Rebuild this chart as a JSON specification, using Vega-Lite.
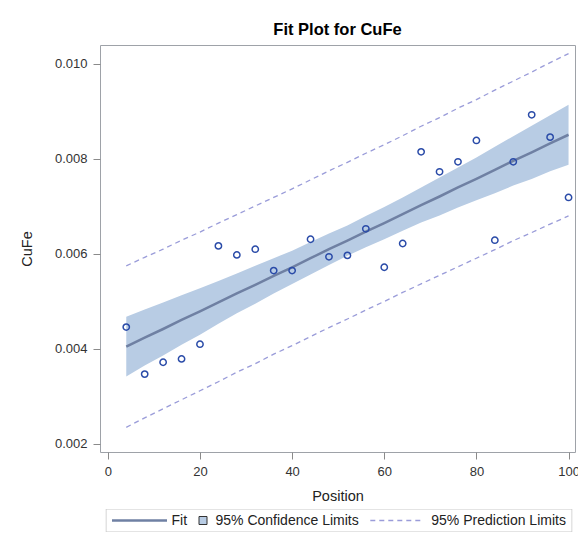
{
  "$schema": "https://vega.github.io/schema/vega-lite/v6.json",
  "width": 475,
  "height": 407,
  "autosize": {"type": "none"},
  "padding": {"left": 100, "top": 45, "right": 3, "bottom": 87},
  "background": "white",
  "title": {"text": "Fit Plot for CuFe", "font": "Liberation Sans", "fontSize": 16.5, "fontWeight": "bold", "color": "#000000", "offset": 7, "anchor": "middle"},
  "config": {
    "view": {"stroke": "#9EA2A8", "strokeWidth": 1},
    "axis": {
      "domain": false, "grid": false,
      "tickColor": "#8A8A8A", "tickSize": 7, "tickWidth": 1,
      "labelFont": "Liberation Sans", "labelFontSize": 13, "labelColor": "#333333", "labelPadding": 6,
      "titleFont": "Liberation Sans", "titleFontSize": 14.5, "titleFontWeight": "normal", "titleColor": "#222222"
    },
    "legend": {
      "orient": "none", "padding": 0, "clipHeight": 14,
      "labelFont": "Liberation Sans", "labelFontSize": 14, "labelColor": "#222222",
      "strokeColor": null
    }
  },
  "data": {"values": [
    {"Position": 4, "CuFe": 0.00446, "Fit": 0.00405, "LCL": 0.00342, "UCL": 0.00468, "LPL": 0.00235, "UPL": 0.00575},
    {"Position": 8, "CuFe": 0.00347, "Fit": 0.00424, "LCL": 0.00365, "UCL": 0.00483, "LPL": 0.00255, "UPL": 0.00593},
    {"Position": 12, "CuFe": 0.00372, "Fit": 0.00442, "LCL": 0.00386, "UCL": 0.00498, "LPL": 0.00274, "UPL": 0.00610},
    {"Position": 16, "CuFe": 0.00379, "Fit": 0.00461, "LCL": 0.00409, "UCL": 0.00513, "LPL": 0.00293, "UPL": 0.00629},
    {"Position": 20, "CuFe": 0.00410, "Fit": 0.00479, "LCL": 0.00430, "UCL": 0.00528, "LPL": 0.00312, "UPL": 0.00646},
    {"Position": 24, "CuFe": 0.00617, "Fit": 0.00498, "LCL": 0.00453, "UCL": 0.00543, "LPL": 0.00331, "UPL": 0.00665},
    {"Position": 28, "CuFe": 0.00598, "Fit": 0.00517, "LCL": 0.00475, "UCL": 0.00559, "LPL": 0.00351, "UPL": 0.00683},
    {"Position": 32, "CuFe": 0.00610, "Fit": 0.00535, "LCL": 0.00495, "UCL": 0.00575, "LPL": 0.00369, "UPL": 0.00701},
    {"Position": 36, "CuFe": 0.00565, "Fit": 0.00554, "LCL": 0.00517, "UCL": 0.00591, "LPL": 0.00389, "UPL": 0.00719},
    {"Position": 40, "CuFe": 0.00565, "Fit": 0.00572, "LCL": 0.00537, "UCL": 0.00607, "LPL": 0.00407, "UPL": 0.00737},
    {"Position": 44, "CuFe": 0.00631, "Fit": 0.00591, "LCL": 0.00557, "UCL": 0.00625, "LPL": 0.00426, "UPL": 0.00756},
    {"Position": 48, "CuFe": 0.00594, "Fit": 0.00610, "LCL": 0.00577, "UCL": 0.00643, "LPL": 0.00445, "UPL": 0.00775},
    {"Position": 52, "CuFe": 0.00597, "Fit": 0.00628, "LCL": 0.00596, "UCL": 0.00660, "LPL": 0.00463, "UPL": 0.00793},
    {"Position": 56, "CuFe": 0.00653, "Fit": 0.00647, "LCL": 0.00614, "UCL": 0.00680, "LPL": 0.00482, "UPL": 0.00812},
    {"Position": 60, "CuFe": 0.00572, "Fit": 0.00665, "LCL": 0.00631, "UCL": 0.00699, "LPL": 0.00500, "UPL": 0.00830},
    {"Position": 64, "CuFe": 0.00622, "Fit": 0.00684, "LCL": 0.00649, "UCL": 0.00719, "LPL": 0.00519, "UPL": 0.00849},
    {"Position": 68, "CuFe": 0.00815, "Fit": 0.00703, "LCL": 0.00666, "UCL": 0.00740, "LPL": 0.00537, "UPL": 0.00869},
    {"Position": 72, "CuFe": 0.00773, "Fit": 0.00721, "LCL": 0.00681, "UCL": 0.00761, "LPL": 0.00555, "UPL": 0.00887},
    {"Position": 76, "CuFe": 0.00794, "Fit": 0.00740, "LCL": 0.00698, "UCL": 0.00782, "LPL": 0.00573, "UPL": 0.00907},
    {"Position": 80, "CuFe": 0.00839, "Fit": 0.00758, "LCL": 0.00713, "UCL": 0.00803, "LPL": 0.00591, "UPL": 0.00925},
    {"Position": 84, "CuFe": 0.00629, "Fit": 0.00777, "LCL": 0.00728, "UCL": 0.00826, "LPL": 0.00609, "UPL": 0.00945},
    {"Position": 88, "CuFe": 0.00794, "Fit": 0.00796, "LCL": 0.00744, "UCL": 0.00848, "LPL": 0.00628, "UPL": 0.00964},
    {"Position": 92, "CuFe": 0.00893, "Fit": 0.00814, "LCL": 0.00758, "UCL": 0.00870, "LPL": 0.00645, "UPL": 0.00983},
    {"Position": 96, "CuFe": 0.00846, "Fit": 0.00833, "LCL": 0.00774, "UCL": 0.00892, "LPL": 0.00663, "UPL": 0.01003},
    {"Position": 100, "CuFe": 0.00719, "Fit": 0.00851, "LCL": 0.00788, "UCL": 0.00914, "LPL": 0.00680, "UPL": 0.01022}
  ]},
  "encoding": {
    "x": {"field": "Position", "type": "quantitative",
      "scale": {"domain": [-1.7, 101.4], "nice": false, "zero": false},
      "axis": {"values": [0, 20, 40, 60, 80, 100], "title": "Position", "titlePadding": 11}}
  },
  "layer": [
    {
      "mark": {"type": "area", "opacity": 1},
      "encoding": {
        "y": {"field": "LCL", "type": "quantitative",
          "scale": {"domain": [0.00183, 0.0104], "nice": false, "zero": false},
          "axis": {"values": [0.002, 0.004, 0.006, 0.008, 0.010], "format": ".3f", "title": "CuFe", "titleX": -66}},
        "y2": {"field": "UCL"},
        "fill": {"datum": "95% Confidence Limits", "type": "nominal",
          "scale": {"range": ["#B8CCE4"]},
          "legend": {"title": null, "legendX": 96, "legendY": 468.5, "symbolType": "square", "symbolSize": 64,
            "symbolStrokeColor": "#333333", "symbolStrokeWidth": 1, "labelOffset": 5.5}}
      }
    },
    {
      "mark": {"type": "line", "stroke": "#9A9CD9", "strokeWidth": 1.3},
      "encoding": {
        "y": {"field": "LPL", "type": "quantitative"},
        "strokeDash": {"datum": "95% Prediction Limits", "type": "nominal",
          "scale": {"range": [[5, 4]]},
          "legend": {"title": null, "legendX": 269.3, "legendY": 468.5, "symbolType": "stroke", "symbolSize": 2500,
            "symbolStrokeColor": "#9A9CD9", "symbolStrokeWidth": 1.3, "labelOffset": 10}}
      }
    },
    {
      "mark": {"type": "line", "stroke": "#9A9CD9", "strokeWidth": 1.3},
      "encoding": {
        "y": {"field": "UPL", "type": "quantitative"},
        "strokeDash": {"datum": "95% Prediction Limits", "type": "nominal"}
      }
    },
    {
      "mark": {"type": "line", "strokeWidth": 2.5},
      "encoding": {
        "y": {"field": "Fit", "type": "quantitative"},
        "stroke": {"datum": "Fit", "type": "nominal",
          "scale": {"range": ["#6F80A3"]},
          "legend": {"title": null, "legendX": 10.5, "legendY": 468.5, "symbolType": "stroke", "symbolSize": 3025,
            "symbolStrokeWidth": 2.5, "labelOffset": 3}}
      }
    },
    {
      "mark": {"type": "point", "shape": "circle", "filled": false, "stroke": "#2A4BA8", "strokeWidth": 1.5, "size": 40},
      "encoding": {
        "y": {"field": "CuFe", "type": "quantitative"},
        "opacity": {"datum": "frame", "type": "ordinal",
          "scale": {"range": [1]},
          "legend": {"title": null, "legendX": 5.5, "legendY": 464, "clipHeight": 23,
            "symbolType": "M-1,-0.0494H1V0.0494H-1Z", "symbolSize": 217156,
            "symbolStrokeColor": "#C8C8C8", "symbolFillColor": "transparent", "symbolStrokeWidth": 1,
            "labelExpr": "''", "labelOffset": 0}}
      }
    }
  ]
}
